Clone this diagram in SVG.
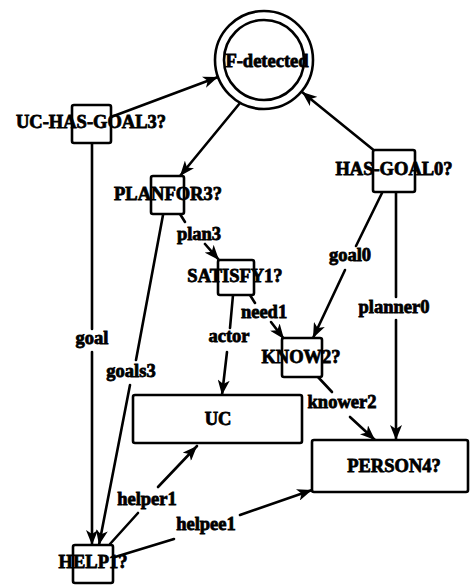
<svg xmlns="http://www.w3.org/2000/svg" width="470" height="585" viewBox="0 0 470 585">
<style>
.bx{fill:#fff;stroke:#000;stroke-width:2.6}
.ln{fill:none;stroke:#000;stroke-width:2.6;stroke-linecap:round}
.ar{marker-end:url(#ah)}
text{font-family:"Liberation Serif","Times New Roman",serif;font-weight:bold;font-size:18.5px;fill:#000;stroke:#000;stroke-width:0.8;text-anchor:middle}
</style>
<defs>
<marker id="ah" markerUnits="userSpaceOnUse" markerWidth="16" markerHeight="12" refX="15" refY="6" orient="auto">
<path d="M0,0 L15,6 L0,12 L4,6 Z" fill="#000"/>
</marker>
</defs>
<rect width="470" height="585" fill="#fff"/>
<g id="connectors">
<line class="ln ar" x1="111" y1="117" x2="218" y2="77"/>
<line class="ln ar" x1="240" y1="103" x2="180" y2="176"/>
<line class="ln ar" x1="376" y1="152" x2="302" y2="92"/>
<line class="ln" x1="92" y1="143" x2="92" y2="329"/>
<line class="ln ar" x1="92" y1="352" x2="92" y2="545"/>
<line class="ln" x1="163" y1="215" x2="136" y2="360"/>
<line class="ln ar" x1="130" y1="385" x2="99" y2="545"/>
<line class="ln" x1="180" y1="214" x2="185" y2="222"/>
<line class="ln ar" x1="205" y1="244" x2="219" y2="260"/>
<line class="ln" x1="250" y1="295" x2="255" y2="303"/>
<line class="ln ar" x1="271" y1="322" x2="284" y2="339"/>
<line class="ln" x1="233" y1="295" x2="230" y2="328"/>
<line class="ln ar" x1="227" y1="352" x2="222" y2="395"/>
<line class="ln" x1="382" y1="193" x2="356" y2="246"/>
<line class="ln ar" x1="345" y1="270" x2="313" y2="338"/>
<line class="ln" x1="396" y1="192" x2="396" y2="297"/>
<line class="ln ar" x1="396" y1="320" x2="396" y2="440"/>
<line class="ln" x1="318" y1="377" x2="332" y2="392"/>
<line class="ln ar" x1="350" y1="417" x2="375" y2="440"/>
<line class="ln" x1="110" y1="544" x2="138" y2="513"/>
<line class="ln ar" x1="158" y1="487" x2="197" y2="446"/>
<line class="ln" x1="115" y1="557" x2="174" y2="539"/>
<line class="ln ar" x1="240" y1="515" x2="312" y2="490"/>
<text x="92" y="344">goal</text>
<text x="131" y="377">goals3</text>
<text x="199" y="240">plan3</text>
<text x="264" y="318">need1</text>
<text x="229" y="342">actor</text>
<text x="350" y="261">goal0</text>
<text x="394" y="313">planner0</text>
<text x="342" y="408">knower2</text>
<text x="147" y="505">helper1</text>
<text x="206" y="530">helpee1</text>
</g>
<g id="F-detected">
<circle cx="264" cy="60" r="49" fill="#fff" stroke="#000" stroke-width="2.6"/>
<circle cx="264" cy="60" r="40" fill="none" stroke="#000" stroke-width="2.6"/>
<text x="267" y="67">F-detected</text>
</g>
<g id="UC-HAS-GOAL3">
<rect class="bx" x="72" y="105" width="39" height="38" rx="2"/>
<text x="91" y="128">UC-HAS-GOAL3?</text>
</g>
<g id="PLANFOR3">
<rect class="bx" x="151" y="176" width="33" height="38" rx="2"/>
<text x="168" y="200">PLANFOR3?</text>
</g>
<g id="HAS-GOAL0">
<rect class="bx" x="373" y="150" width="42" height="42" rx="2"/>
<text x="394" y="175">HAS-GOAL0?</text>
</g>
<g id="SATISFY1">
<rect class="bx" x="218" y="260" width="36" height="35" rx="2"/>
<text x="235" y="282">SATISFY1?</text>
</g>
<g id="KNOW2">
<rect class="bx" x="282" y="338" width="40" height="39" rx="2"/>
<text x="301" y="363">KNOW2?</text>
</g>
<g id="UC">
<rect class="bx" x="133" y="395" width="169" height="48" rx="2"/>
<text x="218" y="425">UC</text>
</g>
<g id="PERSON4">
<rect class="bx" x="312" y="440" width="156" height="52" rx="2"/>
<text x="394" y="472">PERSON4?</text>
</g>
<g id="HELP1">
<rect class="bx" x="73" y="545" width="40" height="38" rx="2"/>
<text x="93" y="568">HELP1?</text>
</g>
</svg>
